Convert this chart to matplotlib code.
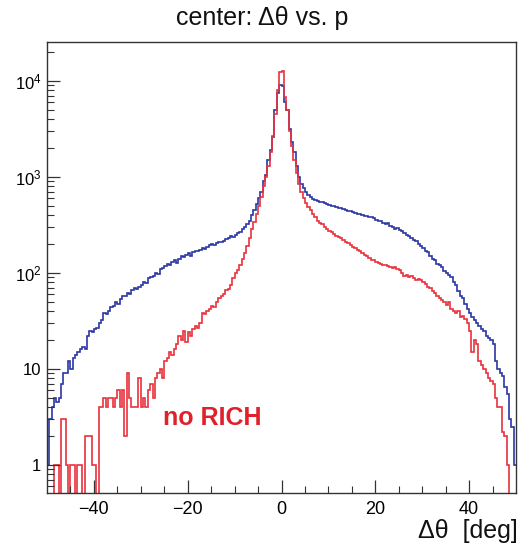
import numpy as np
import matplotlib
matplotlib.use('Agg')
import matplotlib.pyplot as plt
from matplotlib.ticker import FixedLocator, LogLocator, NullFormatter

plt.rcParams['font.family'] = ['Liberation Sans', 'DejaVu Sans']
plt.rcParams['mathtext.fontset'] = 'custom'
plt.rcParams['mathtext.rm'] = 'Liberation Sans'
plt.rcParams['mathtext.it'] = 'Liberation Sans:italic'
plt.rcParams['mathtext.bf'] = 'Liberation Sans:bold'

# ---- data: 200 bins of 0.5 deg from -50 to 50 ----
x_min, x_max, n_bins = -50.0, 50.0, 200

blue_counts = [
    1, 3, 4, 5, 4.5, 5, 7, 9, 9, 12,
    10, 13, 14, 15, 16, 17, 16, 22, 25, 24,
    26, 27, 30, 32, 38, 37, 40, 44, 45, 50,
    48, 54, 58, 57, 62, 60, 66, 70, 68, 72,
    75, 80, 78, 88, 90, 92, 100, 98, 110, 112,
    118, 125, 120, 130, 135, 128, 140, 150, 145, 155,
    160, 150, 165, 170, 168, 175, 180, 178, 185, 195,
    200, 198, 205, 210, 208, 215, 225, 230, 240, 235,
    250, 260, 270, 285, 300, 320, 350, 400, 450, 520,
    600, 700, 900, 1050, 1500, 1900, 2600, 5000, 7500, 9000,
    8800, 6000, 5000, 3200, 2300, 1800, 1300, 1000, 850, 760,
    700, 650, 620, 590, 570, 560, 550, 545, 530, 520,
    510, 500, 495, 490, 480, 475, 460, 455, 440, 445,
    430, 420, 415, 410, 400, 395, 390, 385, 385, 370,
    360, 350, 345, 335, 320, 330, 310, 300, 290, 295,
    280, 275, 260, 250, 240, 230, 220, 215, 200, 190,
    180, 170, 165, 150, 140, 135, 125, 120, 115, 105,
    100, 95, 90, 80, 75, 65, 58, 55, 48, 42,
    38, 35, 32, 30, 28, 26, 25, 22, 21, 20,
    18, 12, 10, 9, 8.5, 6.5, 5.5, 3, 2.5, 1,
]

red_counts = [
    0, 0, 0, 1, 1, 0, 3, 3, 1, 0,
    1, 1, 0, 1, 1, 0, 2, 2, 2, 1,
    1, 0, 4, 4, 5, 4, 5, 5, 4, 5,
    6, 4, 6, 2, 9, 5, 4, 4, 4, 8,
    4, 5, 4, 6, 7, 5, 8, 9, 10, 8,
    12, 13, 15, 14, 16, 18, 22, 20, 25, 19,
    24, 22, 26, 28, 27, 30, 38, 37, 40, 42,
    45, 44, 50, 55, 58, 60, 66, 68, 75, 88,
    100, 108, 120, 140, 160, 190, 230, 290, 340, 410,
    500, 620, 800, 1000, 1300, 1800, 2700, 4500, 8000, 12500,
    12800, 6800, 5000, 3000, 2100, 1500, 1100, 850, 700, 600,
    540, 490, 450, 410, 380, 350, 330, 320, 300, 290,
    275, 265, 255, 245, 235, 230, 220, 210, 205, 195,
    185, 180, 172, 168, 160, 155, 150, 142, 138, 135,
    130, 128, 125, 120, 122, 118, 115, 112, 116, 110,
    108, 100, 92, 95, 90, 92, 88, 85, 86, 84,
    80, 76, 72, 70, 65, 62, 58, 55, 52, 50,
    46, 50, 42, 40, 38, 40, 35, 36, 33, 30,
    25, 15, 20, 18, 12, 11, 10, 9, 8, 7.5,
    7, 5, 4, 4, 2.2, 2, 1, 0, 0, 0,
]

x_ticks = [-40, -20, 0, 20, 40]
x_tick_labels = ['\u221240', '\u221220', '0', '20', '40']
y_ticks = [1, 10, 100, 1000, 10000]
y_tick_labels = ['1', '10', r'$10^{2}$', r'$10^{3}$', r'$10^{4}$']

title = 'center: \u0394\u03b8 vs. p'
x_label = '\u0394\u03b8  [deg]'
annotation = 'no RICH'

# ---- figure ----
W, H = 520, 553
fig = plt.figure(figsize=(W / 100, H / 100), dpi=100)
ax = fig.add_axes([47 / W, 1 - 493 / H, 469 / W, 451 / H])

edges = np.linspace(x_min, x_max, n_bins + 1)
blue = np.array(blue_counts, dtype=float)
red = np.array(red_counts, dtype=float)
floor = 1e-3
ax.stairs(np.where(blue > 0, blue, floor), edges, color='#2b37a3', lw=1.2, baseline=None)
ax.stairs(np.where(red > 0, red, floor), edges, color='#e8323c', lw=1.2, baseline=None)

ax.set_yscale('log')
ax.set_xlim(x_min, x_max)
ax.set_ylim(0.51, 2.55e4)

ax.xaxis.set_major_locator(FixedLocator(x_ticks))
ax.set_xticklabels(x_tick_labels)
ax.xaxis.set_minor_locator(FixedLocator([v for v in range(-45, 50, 5) if v % 20 != 0]))
ax.yaxis.set_major_locator(FixedLocator(y_ticks))
ax.set_yticklabels(y_tick_labels)
ax.yaxis.set_minor_locator(LogLocator(base=10, subs=np.arange(2, 10)))
ax.yaxis.set_minor_formatter(NullFormatter())

ax.tick_params(axis='both', which='major', direction='in', length=9.5, width=0.9,
               top=False, right=False, color='#333333')
ax.tick_params(axis='x', which='major', labelsize=13, pad=6)
ax.tick_params(axis='y', which='major', labelsize=12, pad=4)
ax.tick_params(axis='both', which='minor', direction='in', length=5, width=0.8,
               top=False, right=False, color='#333333')
for s in ax.spines.values():
    s.set_linewidth(1.0)
    s.set_color('#333333')

ax.text(-25.2, 2.6, annotation, color='#e0202a', fontsize=18, fontweight='bold',
        va='baseline', ha='left')

fig.text(0.5 + 2 / W, 1 - 18 / H, title, ha='center', va='center', fontsize=18, color='#111111')
fig.text(518 / W, 1 - 531 / H, x_label, ha='right', va='center', fontsize=18, color='#111111')

fig.savefig('out.png', dpi=100)
